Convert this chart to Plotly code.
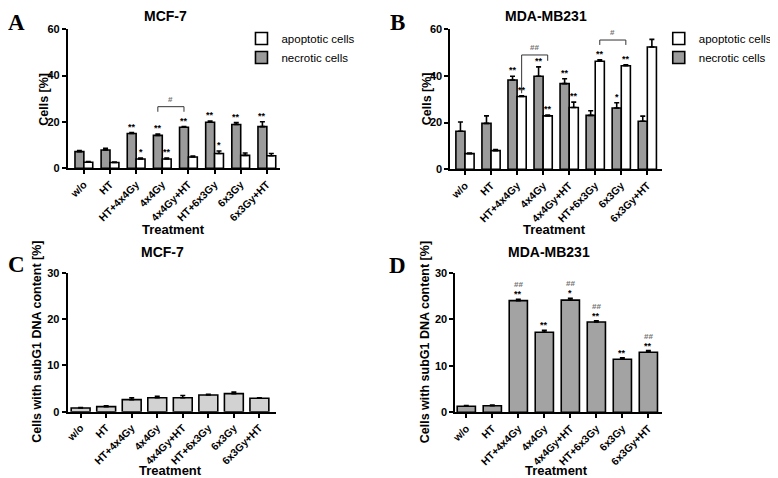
import plotly.graph_objects as go

# ---- data ---------------------------------------------------------------
categories = ["w/o", "HT", "HT+4x4Gy", "4x4Gy", "4x4Gy+HT", "HT+6x3Gy", "6x3Gy", "6x3Gy+HT"]

# A: MCF-7, cells [%]
mcf_necrotic = [7.2, 7.9, 15.0, 14.2, 17.7, 19.9, 18.9, 18.0]
mcf_necrotic_err = [0.5, 0.7, 0.4, 0.6, 0.3, 0.5, 0.8, 2.1]
mcf_apoptotic = [2.6, 2.5, 4.0, 4.0, 4.9, 6.4, 5.6, 5.4]
mcf_apoptotic_err = [0.3, 0.2, 0.4, 0.4, 0.4, 1.1, 1.0, 1.0]
mcf_necrotic_sig = ["", "", "**", "**", "**", "**", "**", "**"]
mcf_apoptotic_sig = ["", "", "*", "**", "", "*", "", ""]

# B: MDA-MB231, cells [%]
mda_necrotic = [16.3, 19.7, 38.3, 39.9, 36.7, 23.1, 26.3, 20.6]
mda_necrotic_err = [4.0, 3.2, 1.6, 4.0, 2.1, 2.0, 2.2, 2.2]
mda_apoptotic = [6.7, 8.0, 31.2, 22.9, 26.5, 46.3, 44.4, 52.4]
mda_apoptotic_err = [0.3, 0.5, 0.3, 0.4, 2.3, 0.6, 0.4, 3.3]
mda_necrotic_sig = ["", "", "**", "**", "**", "", "*", ""]
mda_apoptotic_sig = ["", "", "**", "**", "**", "**", "**", ""]

# C / D: cells with subG1 DNA content [%]
mcf_subg1 = [0.8, 1.1, 2.6, 3.0, 3.0, 3.6, 3.9, 2.9]
mcf_subg1_err = [0.1, 0.15, 0.4, 0.3, 0.5, 0.15, 0.35, 0.1]
mda_subg1 = [1.3, 1.4, 24.0, 17.2, 24.1, 19.4, 11.4, 12.9]
mda_subg1_err = [0.15, 0.15, 0.3, 0.4, 0.4, 0.25, 0.3, 0.35]
mda_subg1_sig = ["", "", "**", "**", "*", "**", "**", "**"]
mda_subg1_hash = ["", "", "##", "", "##", "##", "", "##"]

# ---- styling ---------------------------------------------------------------
# the page body has an 8px margin, so the figure is drawn 8px in from the corner
OFF = 8
W, H = 778 - OFF, 478 - OFF
FONT = "Liberation Sans, Arial, sans-serif"
SERIF = "Liberation Serif, Times New Roman, serif"
GREY = "#9b9b9b"
GREY_D = "#a3a3a3"
GREY_C = "#d2d2d2"
EDGE = dict(color="black", width=1.6)


def px_x(p):
    return (p - OFF) / W


def px_y(p):
    return 1 - (p - OFF) / H


def err_up(arr):
    return dict(type="data", array=arr, arrayminus=[0] * len(arr), symmetric=False,
                color="black", thickness=1.6, width=2.5)


fig = go.Figure()

# bar pairs for A and B (necrotic grey left, apoptotic white right)
PAIR_W = {"x": 0.34, "x2": 0.35}
pairs = [
    ("x", "y", mcf_necrotic, mcf_necrotic_err, mcf_apoptotic, mcf_apoptotic_err, "legend"),
    ("x2", "y2", mda_necrotic, mda_necrotic_err, mda_apoptotic, mda_apoptotic_err, "legend2"),
]
for xr, yr, nec, nec_e, apo, apo_e, leg in pairs:
    w = PAIR_W[xr]
    fig.add_trace(go.Bar(
        x=categories, y=nec, width=w, offset=-w, name="necrotic cells",
        marker=dict(color=GREY, line=EDGE), error_y=err_up(nec_e),
        xaxis=xr, yaxis=yr, legend=leg, legendrank=2,
    ))
    fig.add_trace(go.Bar(
        x=categories, y=apo, width=w, offset=0, name="apoptotic cells",
        marker=dict(color="white", line=EDGE), error_y=err_up(apo_e),
        xaxis=xr, yaxis=yr, legend=leg, legendrank=1,
    ))

# single bars for C and D
fig.add_trace(go.Bar(x=categories, y=mcf_subg1, width=0.74, marker=dict(color=GREY_C, line=EDGE),
                     error_y=err_up(mcf_subg1_err), xaxis="x3", yaxis="y3", showlegend=False))
fig.add_trace(go.Bar(x=categories, y=mda_subg1, width=0.70, marker=dict(color=GREY_D, line=EDGE),
                     error_y=err_up(mda_subg1_err), xaxis="x4", yaxis="y4", showlegend=False))

annotations = []
shapes = []


def star(xr, yr, x, y, text, yshift=0, color="black", size=9):
    annotations.append(dict(
        x=x, y=y, xref=xr, yref=yr, text=text, showarrow=False, yanchor="bottom",
        yshift=yshift, font=dict(family=FONT, size=size, color=color, weight="bold"),
    ))


# significance stars above A/B bars
sig_sets = [
    ("x", "y", mcf_necrotic, mcf_necrotic_err, mcf_necrotic_sig, -1),
    ("x", "y", mcf_apoptotic, mcf_apoptotic_err, mcf_apoptotic_sig, 1),
    ("x2", "y2", mda_necrotic, mda_necrotic_err, mda_necrotic_sig, -1),
    ("x2", "y2", mda_apoptotic, mda_apoptotic_err, mda_apoptotic_sig, 1),
]
for xr, yr, vals, errs, sigs, side in sig_sets:
    w = PAIR_W[xr]
    for i, (v, e, s) in enumerate(zip(vals, errs, sigs)):
        if s:
            star(xr, yr, i + side * w / 2, v + e, s, yshift=-1)

# D: stars and hashes
for i, (v, e, s, h) in enumerate(zip(mda_subg1, mda_subg1_err, mda_subg1_sig, mda_subg1_hash)):
    if s:
        star("x4", "y4", i, v + e, s, yshift=-2)
    if h:
        star("x4", "y4", i, v + e, h, yshift=8, color="#707070", size=8)


def bracket(xr, yr, i0, i1, top, left_low, right_low, label):
    shapes.append(dict(
        type="path", xref=xr, yref=yr,
        path=f"M {i0} {left_low} L {i0} {top} L {i1} {top} L {i1} {right_low}",
        line=dict(color="#333333", width=1),
    ))
    star(xr, yr, (i0 + i1) / 2, top, label, yshift=1, color="#707070", size=8)


wa, wb = PAIR_W["x"], PAIR_W["x2"]
bracket("x", "y", 3 - wa / 2, 4 - wa / 2, 26.6, 24.4, 24.4, "#")
bracket("x2", "y2", 2 + wb / 2, 3 + wb / 2, 49.0, 32.6, 46.5, "##")
bracket("x2", "y2", 5 + wb / 2, 6 + wb / 2, 55.4, 53.3, 53.3, "#")


def text_px(x, y, text, size, family=FONT, bold=True, angle=0, anchor="center"):
    annotations.append(dict(
        x=px_x(x), y=px_y(y), xref="paper", yref="paper", text=text, showarrow=False,
        xanchor=anchor, yanchor="middle", textangle=angle,
        font=dict(family=family, size=size, color="black", weight="bold" if bold else "normal"),
    ))


# panel letters
for letter, x, y in [("A", 17, 23), ("B", 400, 23), ("C", 17, 264), ("D", 400, 265)]:
    text_px(x, y, letter, 23, family=SERIF)

# panel titles
for title, x, y in [("MCF-7", 167, 16), ("MDA-MB231", 550, 16), ("MCF-7", 164, 252), ("MDA-MB231", 553, 252)]:
    text_px(x, y, title, 14)

# axis titles
for x, y in [(175, 229), (558, 229), (172, 470), (560, 470)]:
    text_px(x, y, "Treatment", 13)
text_px(44, 99, "Cells [%]", 12.5, angle=-90)
text_px(430, 99, "Cells [%]", 12.5, angle=-90)
text_px(37, 342, "Cells with subG1 DNA content [%]", 12.5, angle=-90)
text_px(428, 342, "Cells with subG1 DNA content [%]", 12.5, angle=-90)


def xaxis(dom, rng, anchor):
    return dict(
        domain=[px_x(dom[0]), px_x(dom[1])], range=rng, anchor=anchor,
        tickangle=-45, showline=True, linecolor="black", linewidth=2,
        ticks="outside", ticklen=4, tickwidth=1.5, tickcolor="black",
        tickfont=dict(family=FONT, size=10.5, color="black", weight="bold"),
        showgrid=False, zeroline=False, automargin=False, fixedrange=True,
    )


def yaxis(dom, top, dtick, anchor):
    return dict(
        domain=[px_y(dom[1]), px_y(dom[0])], range=[0, top], dtick=dtick, anchor=anchor,
        showline=True, linecolor="black", linewidth=2,
        ticks="outside", ticklen=4, tickwidth=1.5, tickcolor="black",
        tickfont=dict(family=FONT, size=11, color="black", weight="bold"),
        showgrid=False, zeroline=False, automargin=False, fixedrange=True,
    )


legend_style = dict(
    xanchor="left", yanchor="top", bgcolor="rgba(0,0,0,0)", itemwidth=30,
    font=dict(family=FONT, size=11.5, color="black"), traceorder="normal",
)

fig.update_layout(
    width=W, height=H,
    margin=dict(l=0, r=0, t=0, b=0),
    paper_bgcolor="white", plot_bgcolor="white",
    barmode="overlay",
    showlegend=True,
    xaxis=xaxis((68.3, 281.7), [-0.61, 7.5], "y"),
    yaxis=yaxis((29.3, 168.3), 60, 20, "x"),
    xaxis2=xaxis((453.3, 666.7), [-0.56, 7.58], "y2"),
    yaxis2=yaxis((29.3, 169.3), 60, 20, "x2"),
    xaxis3=xaxis((68.0, 278.0), [-0.51, 7.66], "y3"),
    yaxis3=yaxis((272.7, 411.7), 30, 10, "x3"),
    xaxis4=xaxis((458.3, 666.7), [-0.42, 7.54], "y4"),
    yaxis4=yaxis((272.7, 412.3), 30, 10, "x4"),
    legend=dict(x=px_x(243), y=px_y(24), **legend_style),
    legend2=dict(x=px_x(663), y=px_y(24), **legend_style),
    annotations=annotations,
    shapes=shapes,
)

fig.write_html("out.html")
